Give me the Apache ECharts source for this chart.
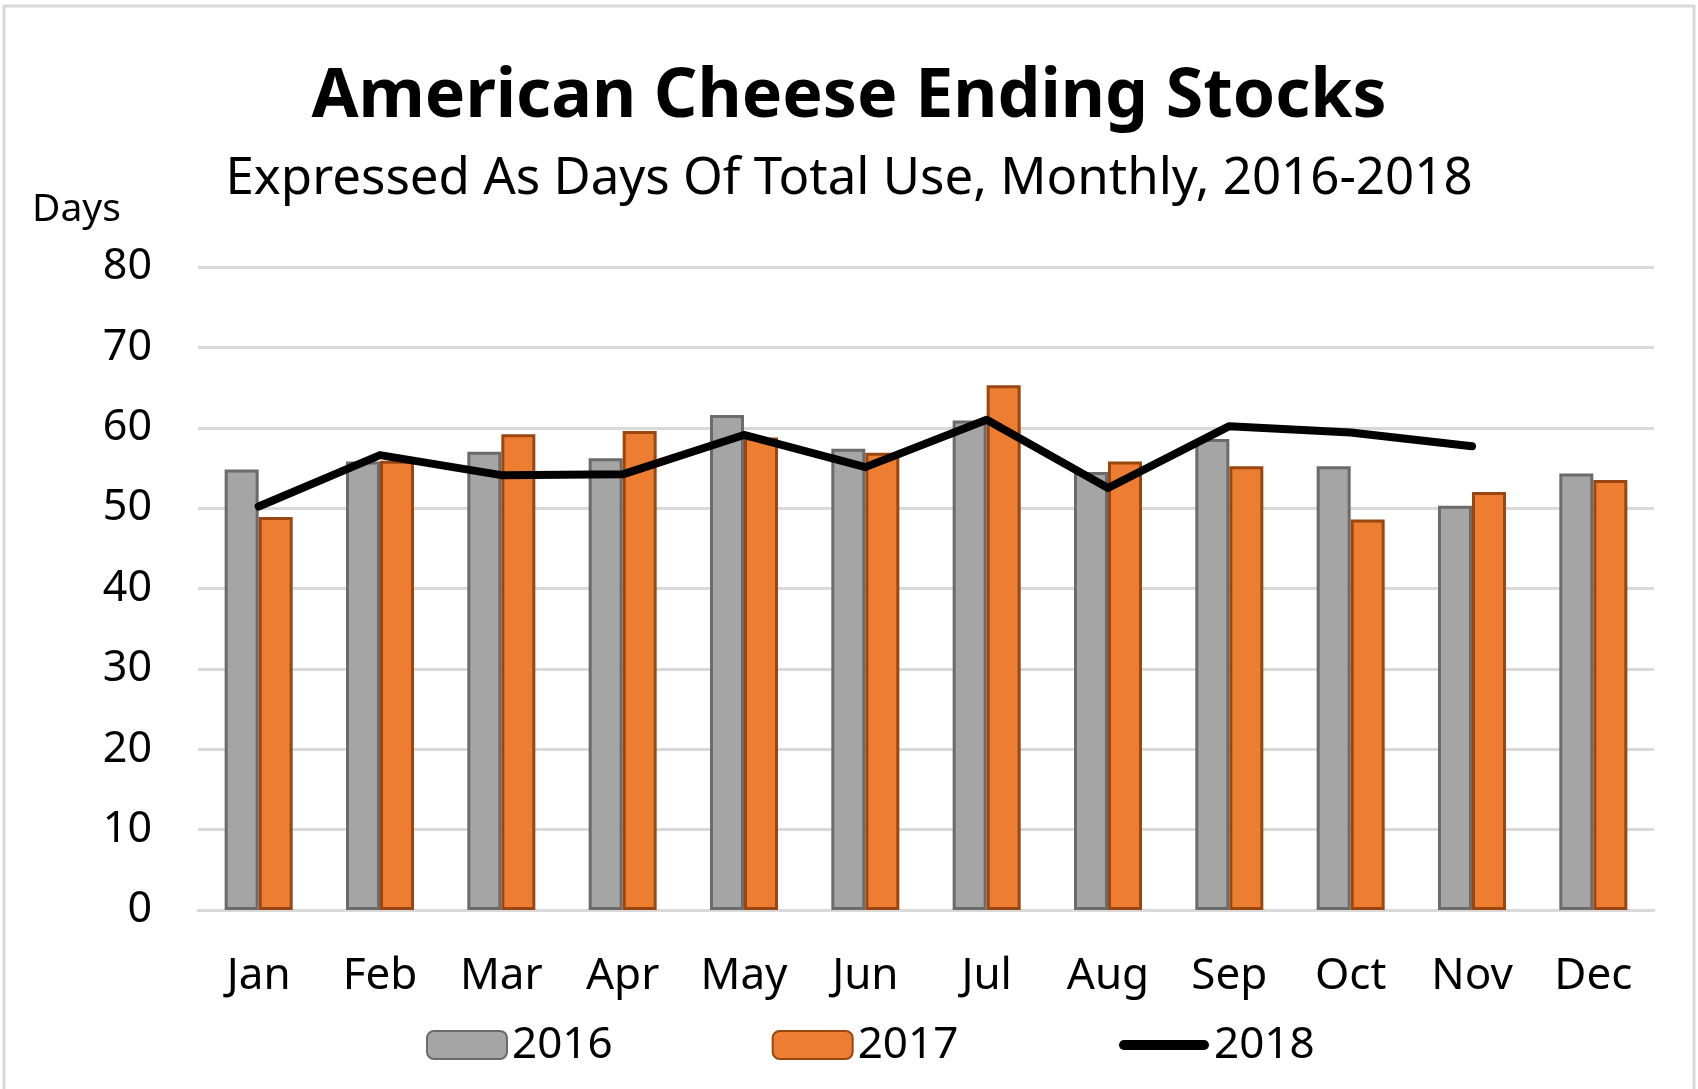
<!DOCTYPE html>
<html>
<head>
<meta charset="utf-8">
<title>American Cheese Ending Stocks</title>
<script src="https://cdn.jsdelivr.net/npm/echarts@6/dist/echarts.min.js"></script>
<style>
  html, body { margin: 0; padding: 0; background: #fff; }
  #chart { width: 1698px; height: 1089px; }
</style>
</head>
<body>
<div id="chart"></div>
<script>
var months = ["Jan", "Feb", "Mar", "Apr", "May", "Jun", "Jul", "Aug", "Sep", "Oct", "Nov", "Dec"];
var stocks2016 = [54.8, 55.8, 57.0, 56.2, 61.6, 57.4, 60.9, 54.5, 58.6, 55.2, 50.3, 54.3];
var stocks2017 = [48.9, 55.9, 59.2, 59.6, 58.8, 56.9, 65.3, 55.8, 55.2, 48.6, 52.0, 53.5];
var stocks2018 = [50.2, 56.6, 54.1, 54.2, 59.1, 55.1, 61.0, 52.5, 60.2, 59.4, 57.7, null];
var yTicks = [0, 80, 10]; // min, max, interval

var font = "Noto Sans";
var chart = echarts.init(document.getElementById("chart"));

var option = {
  backgroundColor: "#fff",
  animation: false,
  title: [
    {
      text: "American Cheese Ending Stocks",
      left: "center",
      top: 59,
      textStyle: { fontFamily: font, fontSize: 68, fontWeight: "bold", color: "#000" }
    },
    {
      text: "Expressed As Days Of Total Use, Monthly, 2016-2018",
      left: "center",
      top: 149,
      textStyle: { fontFamily: font, fontSize: 51, fontWeight: "normal", color: "#000" }
    }
  ],
  graphic: [
    {
      type: "rect",
      shape: { x: 4, y: 6, width: 1690, height: 1100 },
      style: { fill: "none", stroke: "#d9d9d9", lineWidth: 3 },
      silent: true
    },
    {
      type: "text",
      left: 32,
      top: 190,
      style: { text: "Days", fontFamily: font, fontSize: 39, fill: "#000" }
    }
  ],
  legend: [
    {
      left: 421,
      top: 1018,
      itemWidth: 80,
      itemHeight: 28,
      itemGap: 159,
      textStyle: { fontFamily: font, fontSize: 44, color: "#000" },
      data: ["2016", "2017"]
    },
    {
      left: 1114,
      top: 1018,
      itemWidth: 90,
      itemHeight: 28,
      textStyle: { fontFamily: font, fontSize: 44, color: "#000" },
      data: [
        { name: "2018", icon: "path://M5,0 L85,0 A5,5 0 0 1 85,10 L5,10 A5,5 0 0 1 5,0 Z", itemStyle: { color: "#000" } }
      ]
    }
  ],
  grid: {
    left: 198,
    right: 44,
    top: 267,
    bottom: 179,
    containLabel: false
  },
  xAxis: {
    type: "category",
    data: months,
    axisTick: { show: false },
    axisLine: { show: true, lineStyle: { color: "#d9d9d9", width: 3 } },
    axisLabel: {
      margin: 44,
      color: "#000",
      fontFamily: font,
      fontSize: 44
    }
  },
  yAxis: {
    type: "value",
    min: yTicks[0],
    max: yTicks[1],
    interval: yTicks[2],
    axisLine: { show: false },
    axisTick: { show: false },
    splitLine: { show: true, lineStyle: { color: "#d9d9d9", width: 3 } },
    axisLabel: {
      margin: 46,
      color: "#000",
      fontFamily: font,
      fontSize: 43
    }
  },
  series: [
    {
      name: "2016",
      type: "bar",
      data: stocks2016,
      barWidth: 34,
      barGap: "0%",
      itemStyle: { color: "#a5a5a5", borderColor: "#6b6b6b", borderWidth: 3 }
    },
    {
      name: "2017",
      type: "bar",
      data: stocks2017,
      barWidth: 34,
      barGap: "0%",
      itemStyle: { color: "#ed7d31", borderColor: "#9a4611", borderWidth: 3 }
    },
    {
      name: "2018",
      type: "line",
      data: stocks2018,
      symbol: "none",
      z: 5,
      lineStyle: { color: "#000", width: 8, cap: "round", join: "round" },
      itemStyle: { color: "#000" }
    }
  ]
};

chart.setOption(option);
</script>
</body>
</html>
